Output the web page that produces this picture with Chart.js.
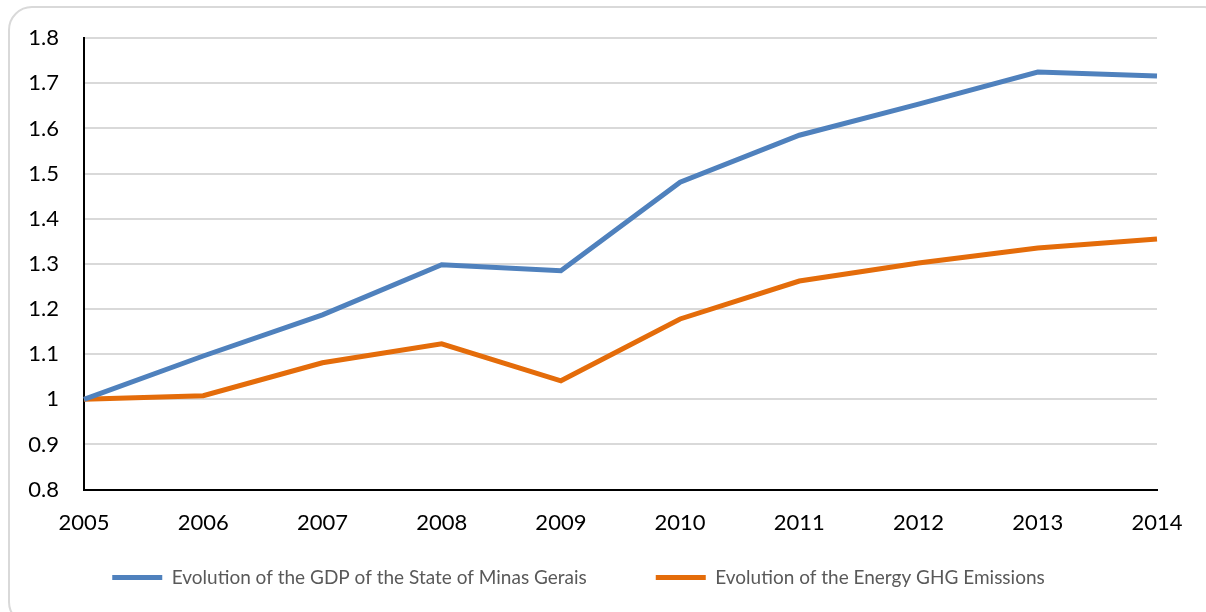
<!DOCTYPE html>
<html>
<head>
<meta charset="utf-8">
<script src="https://cdn.jsdelivr.net/npm/chart.js@4.4.0/dist/chart.umd.min.js"></script>
<style>
    html, body { margin: 0; padding: 0; background: #fff; overflow: hidden; }
    #frame {
        position: absolute; left: 8px; top: 6px; width: 1220px; height: 620px;
        border: 2px solid #d9d9d9; border-radius: 24px; box-sizing: border-box;
    }
    #wrap { position: absolute; left: 0; top: 0; width: 1206px; height: 612px; }
</style>
</head>
<body>
<div id="frame"></div>
<div id="wrap"><canvas id="gdpChart"></canvas></div>
<script>
var years = ['2005', '2006', '2007', '2008', '2009', '2010', '2011', '2012', '2013', '2014'];
var gdp = [1.0, 1.096, 1.187, 1.298, 1.285, 1.481, 1.585, 1.654, 1.725, 1.716];
var emissions = [1.0, 1.008, 1.081, 1.123, 1.041, 1.178, 1.262, 1.302, 1.335, 1.355];
var gdpLabel = 'Evolution of the GDP of the State of Minas Gerais';
var emissionsLabel = 'Evolution of the Energy GHG Emissions';

var ctx = document.getElementById('gdpChart').getContext('2d');
var fontFamily = 'Lato, "Open Sans", sans-serif';

var myChart = new Chart(ctx, {
    type: 'line',
    data: {
        labels: years,
        datasets: [
            {
                label: gdpLabel,
                data: gdp,
                borderColor: '#4f81bd',
                backgroundColor: '#4f81bd',
                borderWidth: 5,
                pointRadius: 0,
                fill: false,
                tension: 0
            },
            {
                label: emissionsLabel,
                data: emissions,
                borderColor: '#e46c0a',
                backgroundColor: '#e46c0a',
                borderWidth: 5,
                pointRadius: 0,
                fill: false,
                tension: 0
            }
        ]
    },
    options: {
        responsive: true,
        maintainAspectRatio: false,
        animation: false,
        layout: {
            padding: { top: 37, right: 49, bottom: 15, left: 0 }
        },
        scales: {
            x: {
                offset: false,
                grid: { display: false, drawTicks: false },
                border: { display: true, color: '#000', width: 2 },
                ticks: {
                    color: '#000',
                    padding: 20,
                    maxRotation: 0,
                    font: { family: fontFamily, size: 22 }
                }
            },
            y: {
                min: 0.8,
                max: 1.8,
                afterFit: function (scale) { scale.width = 84; },
                grid: { color: '#d9d9d9', lineWidth: 2, drawTicks: false },
                border: { display: true, color: '#000', width: 2 },
                ticks: {
                    stepSize: 0.1,
                    color: '#000',
                    padding: 25,
                    font: { family: fontFamily, size: 22 },
                    callback: function (val) {
                        return Math.round(val * 10) / 10;
                    }
                }
            }
        },
        plugins: {
            tooltip: { enabled: false },
            legend: {
                position: 'bottom',
                labels: {
                    color: '#595959',
                    boxWidth: 50,
                    boxHeight: 5,
                    padding: 12,
                    font: { family: fontFamily, size: 19 },
                    generateLabels: function (chart) {
                        var items = Chart.defaults.plugins.legend.labels.generateLabels(chart);
                        items.forEach(function (item, i) {
                            item.lineWidth = 0;
                            item.strokeStyle = 'rgba(0,0,0,0)';
                            // wider gap between the two entries, like the original
                            if (i === 0) item.text = item.text + '\u2003\u2003\u2003\u2003';
                        });
                        return items;
                    }
                }
            }
        }
    }
});
</script>
</body>
</html>
